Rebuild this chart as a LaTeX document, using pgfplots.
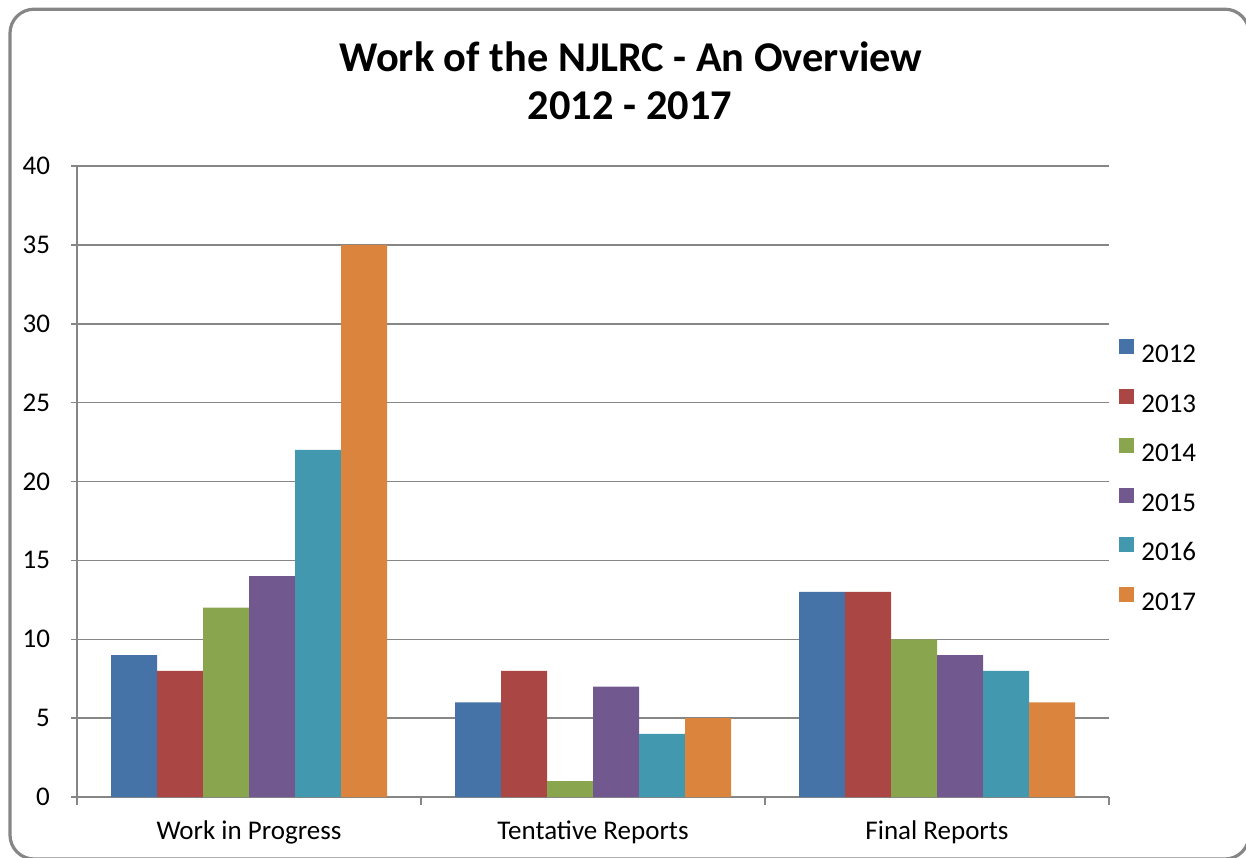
\documentclass[border=0pt]{standalone}
\usepackage{pgfplots}
\pgfplotsset{compat=1.18}
\usepackage{fontspec}
\setmainfont{Carlito}
\definecolor{c2012}{HTML}{4572A7}
\definecolor{c2013}{HTML}{AA4643}
\definecolor{c2014}{HTML}{89A54E}
\definecolor{c2015}{HTML}{71588F}
\definecolor{c2016}{HTML}{4198AF}
\definecolor{c2017}{HTML}{DB843D}
\definecolor{gridc}{HTML}{868686}
\begin{document}
\begin{tikzpicture}
\useasboundingbox (0,0) rectangle (623pt,-428.5pt);
\begin{scope}
\clip (0,0) rectangle (623pt,-428.5pt);
\draw[rounded corners=12pt, color=gridc, line width=1.6pt] (5pt,-4.6pt) rectangle (624.5pt,-429.5pt);
\end{scope}
\node[font=\fontsize{21.2}{25}\selectfont\bfseries] at (315.5pt,-28.5pt) {Work of the NJLRC - An Overview};
\node[font=\fontsize{21.2}{25}\selectfont\bfseries] at (315pt,-53pt) {2012 - 2017};
\begin{axis}[
  at={(38.5pt,-398.5pt)}, anchor=south west,
  scale only axis, width=516pt, height=315.5pt,
  ybar=0pt, bar width=23pt,
  xmin=-0.5, xmax=2.5, ymin=0, ymax=40,
  xtick={0,1,2},
  xticklabels={Work in Progress,Tentative Reports,Final Reports},
  minor xtick={-0.5,0.5,1.5,2.5},
  ytick={0,5,...,40},
  /pgf/number format/assume math mode=true,
  axis x line=bottom, axis y line=left,
  axis line style={draw=gridc, line width=0.75pt, -},
  ymajorgrids, major grid style={draw=gridc, line width=0.75pt},
  tick align=outside,
  major tick length=3pt, minor tick length=4pt,
  major x tick style={draw=none},
  minor x tick style={draw=gridc, line width=0.75pt},
  major y tick style={draw=gridc, line width=0.75pt},
  tick label style={font=\fontsize{13.5}{16}\selectfont},
  yticklabel style={xshift=-7pt},
  xticklabel style={yshift=-5.5pt},
  legend style={at={(rel axis cs:1.0097,0.7258)}, anchor=north west, draw=none, fill=none, inner sep=0pt,
    font=\fontsize{13.5}{16}\selectfont,
    nodes={inner sep=0pt, text height=8pt, text depth=0pt},
    row sep=13pt, column sep=3.5pt},
  legend cell align=left,
  legend image code/.code={\fill[#1] (0pt,0.25pt) rectangle (7.5pt,7.75pt);},
  every axis plot/.append style={draw=none},
]
\addplot[fill=c2012] coordinates {(0,9) (1,6) (2,13)};
\addplot[fill=c2013] coordinates {(0,8) (1,8) (2,13)};
\addplot[fill=c2014] coordinates {(0,12) (1,1) (2,10)};
\addplot[fill=c2015] coordinates {(0,14) (1,7) (2,9)};
\addplot[fill=c2016] coordinates {(0,22) (1,4) (2,8)};
\addplot[fill=c2017] coordinates {(0,35) (1,5) (2,6)};
\legend{2012,2013,2014,2015,2016,2017}
\end{axis}
\end{tikzpicture}
\end{document}
